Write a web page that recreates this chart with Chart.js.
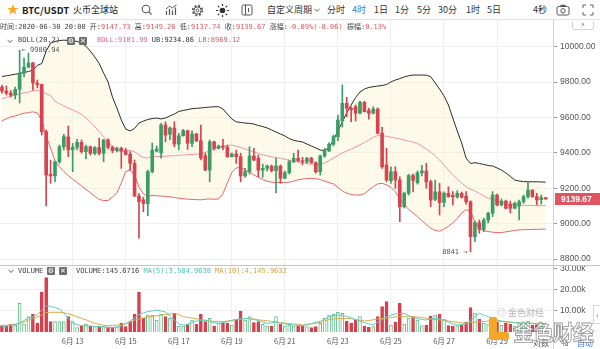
<!DOCTYPE html>
<html lang="zh">
<head>
<meta charset="utf-8">
<title>BTC/USDT 火币全球站</title>
<script src="https://cdn.jsdelivr.net/npm/chart.js@4.4.1/dist/chart.umd.min.js"></script>
<style>
  body { margin:0; width:600px; height:349px; overflow:hidden; background:#fff; position:relative;
         font-family:"Noto Sans CJK SC","Noto Sans",sans-serif; color:#333; }
  .a { position:absolute; white-space:nowrap; }
  .mono { font-family:"DejaVu Sans Mono","Noto Sans CJK SC",monospace; font-size:7px; line-height:9px; color:#444; }
  .tb { font-size:9px; line-height:12px; top:4px; color:#333; }
  .box { position:absolute; width:8px; height:8px; background:#6d6d6d; color:#fff; font-size:7px;
         line-height:8px; text-align:center; border-radius:1px; font-family:"DejaVu Sans",sans-serif; }
  .red { color:#e05a5e; }
  canvas { position:absolute; left:0; }
</style>
</head>
<body>
<canvas id="priceChart" width="600" height="245" style="top:20px"></canvas>
<canvas id="volChart" width="600" height="84" style="top:265px"></canvas>

<!-- toolbar -->
<div class="a" style="left:0;top:19px;width:600px;height:1px;background:#e2e2e2"></div>
<div class="a" style="left:7px;top:2px;font-size:12px;line-height:14px;color:#f5a623">★</div>
<div class="a tb" style="left:22px;font-weight:bold;font-size:9.5px;color:#222">BTC/USDT</div>
<div class="a tb" style="left:73px;color:#222">火币全球站</div>
<svg class="a" style="left:141px;top:4px" width="12" height="12"><circle cx="5" cy="5" r="3.8" fill="none" stroke="#555" stroke-width="1.1"/><line x1="7.8" y1="7.8" x2="10.5" y2="10.5" stroke="#555" stroke-width="1.2"/></svg>
<svg class="a" style="left:165px;top:4px" width="13" height="12"><path d="M1.5 11V7M4.5 11V5M7.5 11V6.5M10.5 11V3.5" stroke="#555" stroke-width="1.2"/><path d="M1 5L4.5 2L7.5 4L11.5 0.8" fill="none" stroke="#555"/></svg>
<svg class="a" style="left:191px;top:3.5px" width="13" height="13"><circle cx="6.5" cy="6.5" r="4.8" fill="none" stroke="#555" stroke-width="1.8" stroke-dasharray="1.9 1.9"/><circle cx="6.5" cy="6.5" r="3.6" fill="none" stroke="#555"/><circle cx="6.5" cy="6.5" r="1.4" fill="none" stroke="#555"/></svg>
<svg class="a" style="left:216px;top:3.5px" width="13" height="13"><circle cx="6.5" cy="6.5" r="2.8" fill="#333"/><g stroke="#333" stroke-width="1.2"><line x1="6.5" y1="0" x2="6.5" y2="2"/><line x1="6.5" y1="11" x2="6.5" y2="13"/><line x1="0" y1="6.5" x2="2" y2="6.5"/><line x1="11" y1="6.5" x2="13" y2="6.5"/><line x1="1.9" y1="1.9" x2="3.3" y2="3.3"/><line x1="9.7" y1="9.7" x2="11.1" y2="11.1"/><line x1="1.9" y1="11.1" x2="3.3" y2="9.7"/><line x1="9.7" y1="3.3" x2="11.1" y2="1.9"/></g></svg>
<svg class="a" style="left:241px;top:4px" width="12" height="12"><rect x="1" y="1" width="10" height="10" rx="1.5" fill="none" stroke="#555"/><line x1="4.5" y1="1" x2="4.5" y2="11" stroke="#555"/><line x1="7.5" y1="4" x2="7.5" y2="8" stroke="#555"/></svg>
<div class="a tb" style="left:267px">自定义周期</div>
<svg class="a" style="left:314px;top:8px" width="6" height="5"><path d="M0.5 0.8L3 3.5L5.5 0.8" fill="none" stroke="#666"/></svg>
<div class="a tb" style="left:327px">分时</div>
<div class="a tb" style="left:352px;color:#3b7ddb">4时</div>
<div class="a tb" style="left:374px">1日</div>
<div class="a tb" style="left:395px">1分</div>
<div class="a tb" style="left:417px">5分</div>
<div class="a tb" style="left:438px">30分</div>
<div class="a tb" style="left:466px">1时</div>
<div class="a tb" style="left:487px">5日</div>
<div class="a tb" style="left:533px">4秒</div>
<svg class="a" style="left:556px;top:4px" width="14" height="12"><rect x="1" y="2.5" width="12" height="8.5" rx="1.5" fill="none" stroke="#555"/><rect x="4.5" y="0.8" width="5" height="2" fill="#555"/><circle cx="7" cy="6.8" r="2.2" fill="none" stroke="#555"/></svg>
<svg class="a" style="left:582px;top:4px" width="12" height="12"><path d="M1 4V1H4M8 1H11V4M11 8V11H8M4 11H1V8" fill="none" stroke="#666"/></svg>

<!-- info lines -->
<div class="a mono" id="infoLine" style="left:0;top:23px"></div>
<svg class="a" style="left:7px;top:38.5px" width="6" height="5"><path d="M0.5 0.8L3 3.5L5.5 0.8" fill="none" stroke="#666"/></svg>
<div class="a mono" style="left:18px;top:36px">BOLL(20,2)</div>
<div class="box" style="left:67px;top:36.5px">⚙</div>
<div class="box" style="left:79px;top:36.5px">✕</div>
<div class="a mono" id="bollLine" style="left:97px;top:36px"></div>

<div class="a" style="left:0;top:265px;width:600px;height:1px;background:#c6c6c6"></div>
<svg class="a" style="left:8px;top:269px" width="6" height="5"><path d="M0.5 0.8L3 3.5L5.5 0.8" fill="none" stroke="#666"/></svg>
<div class="a mono" style="left:18px;top:266.5px">VOLUME</div>
<div class="box" style="left:47px;top:267px">⚙</div>
<div class="box" style="left:59px;top:267px">✕</div>
<div class="a mono" id="volLine" style="left:76px;top:266.5px"></div>

<!-- right side bits -->
<div class="a" style="left:572px;top:21px;width:20px;height:8px;border:1px solid #d6d6d6;border-top:none;border-radius:0 0 3px 3px;font-size:7px;line-height:8px;text-align:center;color:#666">^</div>
<div class="a" style="left:553px;top:332px;width:1px;height:17px;background:#cfd3d7"></div>
<div class="a" style="left:593px;top:305px;width:7px;height:17px;border:1px solid #d6d6d6;border-right:none;background:#fff;font-size:8px;line-height:17px;text-align:center;color:#666">‹</div>
<div class="a" style="left:533px;top:338px;font-size:8px;line-height:10px;color:#555">对数</div>
<div class="a" style="left:561px;top:338px;font-size:8px;line-height:10px;color:#555">%</div>
<div class="a" style="left:577px;top:338px;font-size:8px;line-height:10px;color:#3b7ddb">自动</div>

<!-- watermark -->
<div class="a" style="left:497px;top:308px;font-size:9px;line-height:10px;color:rgba(120,120,120,.55)">◎ 金色财经</div>
<div class="a" style="left:489px;top:317px;width:8px;height:22px;background:#f4a62a;border-radius:2px"></div>
<div class="a" style="left:489px;top:332px;width:20px;height:8px;background:#f4a62a;border-radius:2px"></div>
<div class="a" style="left:513px;top:318px;font-size:21px;line-height:26px;font-weight:bold;letter-spacing:-1px;color:rgba(255,255,255,.6);-webkit-text-stroke:0.8px rgba(110,110,110,.75)">金色财经</div>

<script>
// 4h candles, 2020-06-10 08:00 .. 2020-06-30 20:00
const opens = [
  9772, 9750, 9738, 9727, 9759, 9851, 9885, 9908, 9795, 9787,
  9520, 9280, 9270, 9350, 9435, 9490, 9417, 9432, 9460, 9407,
  9435, 9398, 9430, 9398, 9473, 9432, 9413, 9426, 9411, 9392,
  9341, 9157, 9135, 9113, 9294, 9410, 9400, 9558, 9505, 9541,
  9450, 9497, 9526, 9454, 9507, 9469, 9385, 9303, 9463, 9426,
  9439, 9432, 9379, 9394, 9379, 9270, 9294, 9383, 9370, 9303,
  9313, 9326, 9300, 9326, 9257, 9288, 9350, 9370, 9356, 9350,
  9370, 9345, 9294, 9383, 9411, 9449, 9492, 9580, 9680, 9652,
  9661, 9624, 9686, 9639, 9624, 9648, 9511, 9332, 9243, 9294,
  9247, 9096, 9172, 9272, 9232, 9288, 9298, 9237, 9138, 9180,
  9120, 9172, 9160, 9152, 9172, 9155, 9124, 8927, 9006, 8968,
  9021, 9059, 9162, 9106, 9128, 9110, 9087, 9100, 9124, 9153,
  9190, 9153, 9136, 9147.73
];
const highs = [
  9784, 9778, 9752, 9772, 9980.94, 9936, 9964, 9912, 9812, 9789,
  9529, 9360, 9354, 9445, 9505, 9552, 9454, 9477, 9473, 9445,
  9439, 9436, 9483, 9477, 9479, 9439, 9433, 9433, 9426, 9407,
  9360, 9170, 9150, 9303, 9456, 9439, 9567, 9576, 9548, 9576,
  9511, 9533, 9529, 9525, 9511, 9558, 9398, 9473, 9467, 9445,
  9477, 9445, 9400, 9416, 9398, 9313, 9435, 9426, 9388, 9337,
  9332, 9332, 9371, 9332, 9298, 9360, 9398, 9416, 9375, 9375,
  9375, 9350, 9388, 9426, 9458, 9501, 9614, 9784, 9714, 9660,
  9671, 9693, 9692, 9652, 9661, 9654, 9545, 9426, 9322, 9322,
  9265, 9179, 9280, 9280, 9298, 9330, 9341, 9247, 9247, 9228,
  9180, 9209, 9181, 9187, 9179, 9181, 9130, 9015, 9021, 9031,
  9066, 9181, 9168, 9140, 9134, 9128, 9123, 9134, 9162, 9232,
  9192, 9172, 9162, 9149.26
];
const lows = [
  9738, 9727, 9716, 9705, 9682, 9829, 9880, 9755, 9767, 9501,
  9100, 9228, 9237, 9341, 9417, 9379, 9294, 9417, 9398, 9366,
  9388, 9390, 9388, 9350, 9422, 9401, 9405, 9313, 9388, 9304,
  9153, 8918, 9068, 9045, 9287, 9405, 9370, 9463, 9473, 9435,
  9417, 9495, 9420, 9435, 9463, 9360, 9300, 9237, 9417, 9422,
  9417, 9375, 9377, 9341, 9237, 9262, 9281, 9356, 9266, 9262,
  9298, 9292, 9174, 9228, 9255, 9281, 9345, 9350, 9332, 9341,
  9341, 9285, 9275, 9375, 9407, 9439, 9469, 9546, 9605, 9576,
  9580, 9620, 9631, 9590, 9620, 9507, 9313, 9237, 9228, 9200,
  9011, 9089, 9162, 9180, 9224, 9270, 9200, 9096, 9130, 9049,
  9096, 9149, 9106, 9144, 9145, 9110, 8841, 8898, 8946, 8955,
  9004, 9040, 9100, 9100, 9083, 9062, 9084, 9021, 9115, 9145,
  9149, 9106, 9111, 9137.74
];
const closes = [
  9750, 9738, 9727, 9759, 9851, 9885, 9908, 9795, 9787, 9520,
  9275, 9270, 9350, 9435, 9492, 9417, 9432, 9460, 9407, 9435,
  9398, 9430, 9398, 9473, 9432, 9413, 9426, 9411, 9392, 9341,
  9157, 9125, 9113, 9294, 9416, 9422, 9558, 9501, 9541, 9450,
  9497, 9526, 9454, 9507, 9469, 9371, 9303, 9463, 9426, 9439,
  9432, 9379, 9394, 9379, 9270, 9294, 9383, 9360, 9303, 9313,
  9326, 9300, 9326, 9257, 9288, 9350, 9370, 9356, 9350, 9370,
  9345, 9294, 9383, 9411, 9449, 9492, 9586, 9680, 9652, 9645,
  9624, 9686, 9633, 9624, 9648, 9511, 9322, 9247, 9294, 9247,
  9096, 9172, 9272, 9245, 9288, 9298, 9237, 9134, 9180, 9120,
  9172, 9153, 9152, 9172, 9149, 9124, 8927, 9006, 8968, 9021,
  9059, 9162, 9106, 9128, 9087, 9087, 9115, 9124, 9153, 9190,
  9153, 9134, 9147.73, 9139.67
];

// BOLL(20,2)
const bollUpper = [
  9832, 9836, 9840, 9845, 9849, 9854, 9860, 9868, 9895, 9905,
  9975, 10020, 10030, 10035, 10037, 10036, 10034, 10030, 10020, 10003,
  9975, 9942, 9905, 9851, 9801, 9716, 9654, 9586, 9535, 9524,
  9538, 9569, 9580, 9589, 9594, 9597, 9592, 9597, 9609, 9620,
  9634, 9640, 9645, 9650, 9652, 9654, 9657, 9659, 9661, 9661,
  9648, 9620, 9592, 9576, 9572, 9569, 9567, 9563, 9555, 9549,
  9541, 9530, 9518, 9507, 9496, 9481, 9471, 9466, 9462, 9450,
  9439, 9428, 9416, 9414, 9428, 9473, 9524, 9575, 9626, 9671,
  9713, 9744, 9761, 9770, 9774, 9778, 9781, 9787, 9801, 9812,
  9820, 9829, 9836, 9840, 9840, 9840, 9839, 9831, 9795, 9761,
  9722, 9671, 9597, 9524, 9456, 9371, 9340, 9345, 9340, 9335,
  9329, 9326, 9315, 9303, 9287, 9267, 9247, 9241, 9238, 9237,
  9237, 9237, 9236, 9234.86
];
const bollMid = [
  9707, 9714, 9722, 9727, 9733, 9739, 9744, 9750, 9753, 9748,
  9735, 9724, 9692, 9678, 9666, 9654, 9643, 9631, 9617, 9598,
  9575, 9548, 9521, 9491, 9466, 9434, 9414, 9408, 9415, 9414,
  9407, 9388, 9374, 9371, 9381, 9380, 9380, 9381, 9383, 9384,
  9387, 9388, 9390, 9391, 9393, 9394, 9402, 9412, 9422, 9431,
  9436, 9442, 9444, 9438, 9431, 9422, 9414, 9405, 9397, 9389,
  9384, 9378, 9374, 9370, 9364, 9358, 9353, 9348, 9344, 9340,
  9335, 9332, 9335, 9343, 9357, 9371, 9385, 9400, 9411, 9422,
  9433, 9446, 9459, 9473, 9488, 9498, 9498, 9494, 9489, 9484,
  9479, 9473, 9467, 9462, 9454, 9439, 9422, 9405, 9383, 9360,
  9332, 9303, 9278, 9253, 9230, 9210, 9196, 9185, 9171, 9157,
  9145, 9137, 9128, 9121, 9114, 9109, 9106, 9105, 9104, 9103,
  9103, 9102, 9102, 9101.99
];
const bollLower = [
  9582, 9592, 9604, 9609, 9617, 9624, 9628, 9632, 9626, 9586,
  9495, 9428, 9354, 9322, 9295, 9272, 9252, 9233, 9214, 9194,
  9175, 9155, 9137, 9131, 9131, 9151, 9174, 9230, 9295, 9303,
  9275, 9207, 9168, 9153, 9160, 9158, 9156, 9154, 9152, 9148,
  9144, 9141, 9139, 9137, 9136, 9135, 9138, 9140, 9138, 9140,
  9170, 9230, 9290, 9315, 9318, 9305, 9290, 9275, 9262, 9250,
  9240, 9235, 9232, 9233, 9232, 9235, 9240, 9248, 9252, 9255,
  9256, 9254, 9250, 9240, 9232, 9225, 9205, 9185, 9172, 9165,
  9162, 9162, 9170, 9190, 9210, 9225, 9228, 9220, 9205, 9180,
  9140, 9110, 9080, 9060, 9040, 9018, 8995, 8975, 8962, 8958,
  8970, 8985, 9005, 9030, 9060, 9080, 9070, 9010, 8975, 8960,
  8956, 8952, 8950, 8950, 8954, 8958, 8962, 8965, 8966, 8967,
  8968, 8968, 8969, 8969.12
];

const volumes = [
  3000, 3000, 3665, 3332, 13661, 3808, 7283, 8425, 4141, 18897,
  25847, 4903, 4903, 4903, 4903, 7283, 4903, 2047, 3000, 3665,
  2856, 2523, 2523, 2856, 2380, 2380, 2380, 4141, 2523, 4903,
  8425, 18897, 6521, 8092, 8092, 5712, 8425, 7283, 6521, 8901,
  2856, 2856, 3665, 5712, 3665, 8425, 4903, 6521, 2856, 4141,
  4141, 4141, 3332, 5712, 9996, 5712, 7283, 4427, 4903, 3665,
  2856, 2856, 7283, 3665, 2856, 3332, 2856, 2856, 2856, 2523,
  2047, 2618, 4141, 6521, 8092, 8425, 9377, 8901, 5236, 4141,
  5712, 7283, 2856, 2237, 2523, 7283, 12043, 14423, 3332, 4760,
  13661, 3808, 6664, 7283, 5712, 3000, 3332, 7616, 8092, 8568,
  6188, 3000, 2856, 3000, 3332, 4760, 11567, 9044, 6188, 4284,
  3808, 6664, 4760, 3332, 4284, 3808, 2856, 4284, 3808, 5236,
  3332, 3570, 2856, 145.6716
];
const volMa5 = [
  2523, 2761, 3094, 3570, 4284, 5474, 6664, 7378, 8092, 10472,
  12519, 12138, 11662, 10948, 9044, 6426, 4141, 3570, 2999, 2951,
  2856, 2713, 2523, 2380, 2237, 2047, 2380, 2856, 3808, 5236,
  6664, 8330, 9044, 9758, 10091, 10472, 9996, 9520, 7854, 5712,
  3808, 3332, 3570, 4522, 5236, 5474, 5712, 4998, 4522, 4141,
  4522, 4903, 5474, 6045, 6283, 6521, 6283, 5950, 5474, 4760,
  4141, 4284, 4760, 4284, 3808, 3570, 3332, 3189, 2999, 3570,
  4046, 4617, 5093, 6188, 7140, 7854, 8092, 7854, 7521, 6664,
  5950, 5236, 4522, 3808, 3332, 4760, 5950, 7140, 8092, 8568,
  8806, 8806, 7854, 6902, 6426, 5950, 5712, 6188, 6521, 6283,
  5712, 4760, 3808, 3332, 3570, 3808, 5236, 7616, 8901, 8092,
  7283, 6664, 5712, 5236, 4998, 4760, 4522, 4284, 4046, 4284,
  4046, 3808, 3713, 3584.9638
];
const volMa10 = [
  2999, 3189, 3427, 3713, 4141, 4760, 5712, 6426, 7140, 8092,
  9282, 9377, 9377, 9377, 9187, 8663, 8092, 7235, 6521, 5807,
  4998, 4141, 3665, 3189, 2999, 3094, 3237, 3427, 4046, 4760,
  5712, 6188, 6664, 7140, 7473, 7711, 8092, 8330, 8568, 8806,
  8330, 7283, 6902, 6664, 6283, 5807, 5379, 5236, 5093, 4950,
  4903, 5236, 5569, 5855, 6093, 6426, 6426, 6188, 5807, 5569,
  5331, 4998, 4760, 4522, 4284, 3998, 3808, 3665, 3332, 3570,
  3808, 4141, 4522, 5236, 5950, 6188, 6331, 6426, 6521, 6331,
  5950, 5569, 5236, 5474, 5807, 6188, 6426, 6521, 6902, 7140,
  7283, 7283, 7283, 7283, 7140, 6902, 6521, 6188, 5950, 5712,
  5474, 5236, 4903, 4617, 4284, 4141, 4522, 4760, 4903, 4998,
  5236, 5331, 5236, 4998, 4760, 4617, 4427, 4284, 4189, 4189,
  4146, 4146, 4146, 4145.9632
];

const dayTickIdx = [16, 28, 40, 52, 64, 76, 88, 100, 112];
const dayTickLabels = ['6月 13', '6月 15', '6月 17', '6月 19', '6月 21', '6月 23', '6月 25', '6月 27', '6月 29'];
const priceTicks = [8800, 9000, 9200, 9400, 9600, 9800, 10000];
const volumeTicks = [10000, 20000, 30000];

const UP = '#3b9d66';
const DOWN = '#d8434f';
const GRID = '#eef0f2';
const last = closes.length - 1;

// header texts
const f2 = v => v.toFixed(2);
const chg = closes[last] - closes[last - 1];
document.getElementById('infoLine').innerHTML =
  '时间:2020-06-30 20:00  开:<span class="red">' + f2(opens[last]) + '</span>  高:<span class="red">' + f2(highs[last]) +
  '</span>  低:<span class="red">' + f2(lows[last]) + '</span>  收:<span class="red">' + f2(closes[last]) +
  '</span>  涨幅:<span class="red">' + (chg / closes[last - 1] * 100).toFixed(2) + '%(' + f2(chg) + ')</span>  振幅:<span class="red">' +
  ((highs[last] - lows[last]) / closes[last - 1] * 100).toFixed(2) + '%</span>';
document.getElementById('bollLine').innerHTML =
  '<span style="color:#e4679b">BOLL:' + f2(bollMid[last]) + '</span>  <span style="color:#333">UB:' + f2(bollUpper[last]) +
  '</span>  <span style="color:#e05a5e">LB:' + f2(bollLower[last]) + '</span>';
const fmt4 = v => v.toLocaleString('en-US', { minimumFractionDigits: 4, maximumFractionDigits: 4 });
document.getElementById('volLine').innerHTML =
  '<span style="color:#444">VOLUME:' + volumes[last].toFixed(4) + '</span>  <span style="color:#4fc6b7">MA(5):' + fmt4(volMa5[last]) +
  '</span>  <span style="color:#d9a640">MA(10):' + fmt4(volMa10[last]) + '</span>';

Chart.defaults.font.family = '"Liberation Sans", Arial, sans-serif';

const isUp = closes.map((c, i) => c >= opens[i]);
const candleColor = isUp.map(u => u ? UP : DOWN);
const pts = arr => arr.map((v, i) => ({ x: i, y: v }));
const xMin = -0.44;
const xMax = 124.66;

function xScale(showLabels) {
  return {
    type: 'linear', min: xMin, max: xMax, offset: false, bounds: 'data',
    grid: { color: GRID, drawTicks: false, offset: false },
    border: { display: false },
    ticks: {
      display: showLabels, color: '#555', padding: 5, autoSkip: false, maxRotation: 0,
      font: { size: 7.5, family: '"Noto Sans CJK SC", sans-serif' },
      callback: (v, i) => dayTickLabels[i]
    },
    afterBuildTicks: s => { s.ticks = dayTickIdx.map(v => ({ value: v })); },
    afterFit: s => { s.height = showLabels ? 17 : 0; s.paddingLeft = 0; s.paddingRight = 0; }
  };
}

function yScale(min, max, ticks, label) {
  return {
    position: 'right', min: min, max: max, bounds: 'data',
    grid: { color: GRID, tickColor: '#999', tickLength: 4 },
    border: { color: '#cfd3d7' },
    ticks: { color: '#555', padding: 3, font: { size: 8.5 }, callback: label },
    afterBuildTicks: s => { s.ticks = ticks.map(v => ({ value: v })); },
    afterFit: s => { s.width = 47; s.paddingTop = 0; s.paddingBottom = 0; }
  };
}

// max / min marks and last price tag
const priceMarks = {
  id: 'priceMarks',
  afterDatasetsDraw(chart) {
    const { ctx, scales: { x, y } } = chart;
    const hi = Math.max(...highs), hiIdx = highs.indexOf(hi);
    const lo = Math.min(...lows), loIdx = lows.indexOf(lo);
    ctx.save();
    ctx.font = '7px "DejaVu Sans Mono", monospace';
    ctx.fillStyle = '#555';
    ctx.textBaseline = 'middle';
    ctx.textAlign = 'left';
    ctx.fillText('← ' + hi, x.getPixelForValue(hiIdx) + 2, y.getPixelForValue(hi));
    ctx.textAlign = 'right';
    ctx.fillText(lo + ' →', x.getPixelForValue(loIdx) - 3, y.getPixelForValue(lo));

    const ly = y.getPixelForValue(closes[last]);
    ctx.fillStyle = '#df5461';
    ctx.fillRect(y.left + 2, Math.round(ly) - 6, chart.width - y.left - 2, 12);
    ctx.fillStyle = '#fff';
    ctx.font = 'bold 8.5px "Liberation Sans", Arial, sans-serif';
    ctx.textAlign = 'left';
    ctx.fillText(f2(closes[last]), y.left + 8, Math.round(ly) + 0.5);
    ctx.restore();
  }
};

new Chart(document.getElementById('priceChart'), {
  type: 'bar',
  data: {
    datasets: [
      { type: 'line', data: pts(bollUpper), borderColor: '#2b2b2b', borderWidth: 1, pointRadius: 0, order: 5 },
      { type: 'line', data: pts(bollLower), borderColor: '#e4676c', borderWidth: 1, pointRadius: 0, order: 5,
        fill: '-1', backgroundColor: 'rgba(251,244,205,0.42)' },
      { type: 'line', data: pts(bollMid), borderColor: '#f094a6', borderWidth: 1, pointRadius: 0, order: 5 },
      { data: lows.map((l, i) => ({ x: i, y: [l, highs[i]] })), backgroundColor: candleColor,
        barThickness: 1, grouped: false, order: 2 },
      { data: opens.map((o, i) => ({ x: i, y: [o, closes[i]] })), backgroundColor: candleColor,
        barThickness: 3, minBarLength: 1, grouped: false, order: 1 }
    ]
  },
  options: {
    responsive: false, animation: false, devicePixelRatio: 1,
    layout: { padding: 0 },
    plugins: { legend: { display: false }, tooltip: { enabled: false }, filler: { drawTime: 'beforeDatasetsDraw' } },
    scales: {
      x: xScale(false),
      y: yScale(8766.75, 10151, priceTicks, v => v.toFixed(2))
    }
  },
  plugins: [priceMarks]
});

new Chart(document.getElementById('volChart'), {
  type: 'bar',
  data: {
    datasets: [
      { type: 'line', data: pts(volMa5), borderColor: '#5ccdbf', borderWidth: 1, pointRadius: 0, order: 0 },
      { type: 'line', data: pts(volMa10), borderColor: '#ddaa46', borderWidth: 1, pointRadius: 0, order: 0 },
      { data: pts(volumes), backgroundColor: isUp.map(u => u ? '#fff' : '#d6404d'),
        borderColor: isUp.map(u => u ? '#62bd8a' : '#d6404d'), borderWidth: 1,
        barThickness: 3, grouped: false, order: 1 }
    ]
  },
  options: {
    responsive: false, animation: false, devicePixelRatio: 1,
    layout: { padding: 0 },
    plugins: { legend: { display: false }, tooltip: { enabled: false } },
    scales: {
      x: xScale(true),
      y: yScale(0, 31892, volumeTicks, v => (v / 1000).toFixed(2) + 'k')
    }
  }
});
</script>
</body>
</html>
